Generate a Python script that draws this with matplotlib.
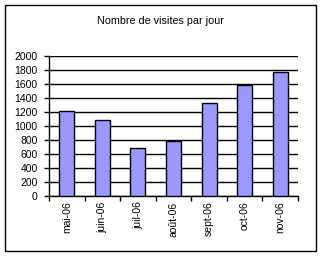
import numpy as np
import matplotlib
matplotlib.use('Agg')
import matplotlib.pyplot as plt

mois = ['mai-06', 'juin-06', 'juil-06', 'août-06', 'sept-06', 'oct-06', 'nov-06']
visites = [1215, 1090, 685, 785, 1335, 1590, 1770]

plt.rcParams['font.family'] = ['Liberation Sans', 'DejaVu Sans']

fig = plt.figure(figsize=(3.23, 2.56), dpi=100)
# cadre autour du graphique
fig.patches.append(plt.Rectangle((5/323, 5/256), 311/323, 246/256, transform=fig.transFigure,
                                 fill=False, edgecolor='black', linewidth=1))
ax = fig.add_axes([49/323, 1-196/256, 249/323, 140/256])

x = np.arange(len(mois))
ax.bar(x, visites, width=0.42, color='#9999FF', edgecolor='black', linewidth=1, zorder=3)

ax.set_xlim(-0.5, len(mois)-0.5)
ax.set_ylim(0, 2000)
ax.set_yticks(np.arange(0, 2001, 200))
ax.yaxis.grid(True, color='black', linewidth=1, zorder=0)
ax.set_axisbelow(True)

ax.set_xticks(np.arange(-0.5, len(mois), 1))
ax.set_xticklabels([])
ax.set_xticks(x, minor=True)
ax.set_xticklabels(mois, minor=True, rotation=90, fontsize=7.5)
ax.tick_params(axis='x', which='minor', length=0, pad=4)
ax.tick_params(axis='x', which='major', length=3.6, width=1, direction='out')
ax.tick_params(axis='y', length=3.6, width=1, labelsize=7.5, pad=4.5)

for s in ['top', 'right']:
    ax.spines[s].set_visible(False)
ax.spines['left'].set_linewidth(1)
ax.spines['bottom'].set_linewidth(1)

fig.text(160/323, 1-21/256, 'Nombre de visites par jour', ha='center', va='center', fontsize=7.75)

fig.savefig('out.png', dpi=100)
